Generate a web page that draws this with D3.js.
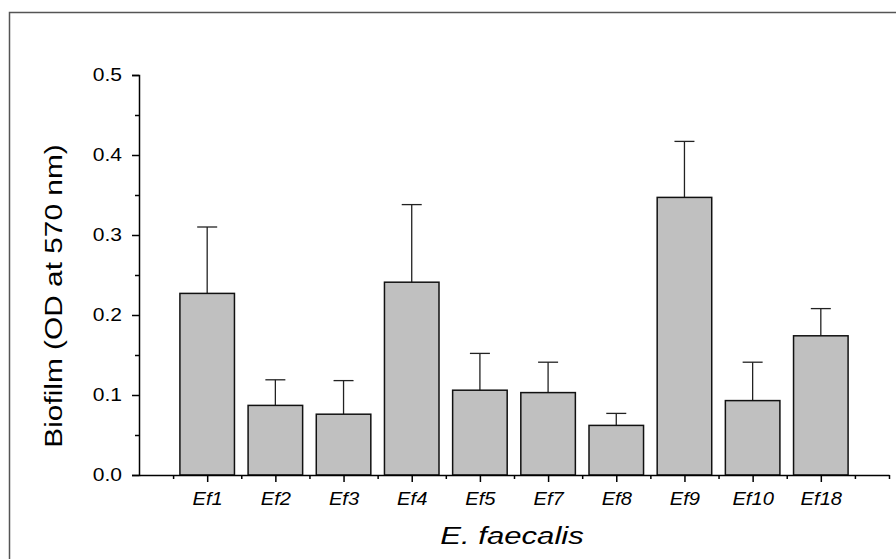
<!DOCTYPE html>
<html>
<head>
<meta charset="utf-8">
<script src="https://cdn.jsdelivr.net/npm/d3@7"></script>
<style>
  body { margin: 0; background: #fff; }
  text { font-family: "Liberation Sans", Arial, sans-serif; fill: #000; }
</style>
</head>
<body>
<div id="chart"></div>
<script>
const strains = ['Ef1', 'Ef2', 'Ef3', 'Ef4', 'Ef5', 'Ef7', 'Ef8', 'Ef9', 'Ef10', 'Ef18'];
const biofilm = [0.227, 0.087, 0.076, 0.241, 0.106, 0.103, 0.062, 0.347, 0.093, 0.174];
const errorUp = [0.083, 0.032, 0.042, 0.097, 0.046, 0.038, 0.015, 0.070, 0.048, 0.034];
const yTicks = [0.0, 0.1, 0.2, 0.3, 0.4, 0.5];

const width = 896, height = 559;
const margin = {left: 139, right: 7, top: 75, bottom: 84};

const svg = d3.select('#chart').append('svg')
    .attr('width', width)
    .attr('height', height);

// outer frame (only top and left edges show in the picture)
svg.append('rect')
    .attr('x', 9.5).attr('y', 12.5)
    .attr('width', width + 20).attr('height', height + 20)
    .attr('fill', 'none')
    .attr('stroke', '#555')
    .attr('stroke-width', 1.5);

// x: 11 slots, categories on positions 1..10
const x = d3.scaleLinear()
    .domain([0, 11])
    .range([margin.left, width - margin.right]);

const y = d3.scaleLinear()
    .domain([0, 0.5])
    .range([height - margin.bottom, margin.top]);

const slot = x(1) - x(0);
const barW = slot * 0.8;

const data = strains.map((s, i) => ({name: s, pos: i + 1, v: biofilm[i], e: errorUp[i]}));

// error bars (drawn first, bar covers the lower half)
const err = svg.append('g');
err.selectAll('line.stem')
    .data(data)
  .enter().append('line')
    .attr('x1', d => x(d.pos)).attr('x2', d => x(d.pos))
    .attr('y1', d => y(d.v)).attr('y2', d => y(d.v + d.e))
    .attr('stroke', '#222').attr('stroke-width', 1.3);
err.selectAll('line.cap')
    .data(data)
  .enter().append('line')
    .attr('x1', d => x(d.pos) - 10).attr('x2', d => x(d.pos) + 10)
    .attr('y1', d => y(d.v + d.e)).attr('y2', d => y(d.v + d.e))
    .attr('stroke', '#222').attr('stroke-width', 1.3);

svg.append('g').selectAll('rect')
    .data(data)
  .enter().append('rect')
    .attr('x', d => x(d.pos) - barW / 2)
    .attr('y', d => y(d.v))
    .attr('width', barW)
    .attr('height', d => y(0) - y(d.v))
    .attr('fill', '#c0c0c0')
    .attr('stroke', '#111')
    .attr('stroke-width', 1.5);

// y axis
const yAxis = svg.append('g')
    .attr('transform', 'translate(' + margin.left + ',0)')
    .call(d3.axisLeft(y).tickValues(yTicks).tickFormat(d3.format('.1f')).tickSize(7).tickPadding(10));
svg.append('g')
    .attr('transform', 'translate(' + margin.left + ',0)')
    .call(d3.axisLeft(y).tickValues([0.05, 0.15, 0.25, 0.35, 0.45]).tickFormat('').tickSize(4))
    .select('.domain').remove();

// x axis
const xAxis = svg.append('g')
    .attr('transform', 'translate(0,' + y(0) + ')')
    .call(d3.axisBottom(x).tickValues(d3.range(1, 11)).tickFormat(d => strains[d - 1]).tickSize(7).tickSizeOuter(0));
svg.append('g')
    .attr('transform', 'translate(0,' + y(0) + ')')
    .call(d3.axisBottom(x).tickValues(d3.range(0.5, 11.5, 1).concat([11])).tickFormat('').tickSize(4))
    .select('.domain').remove();

svg.selectAll('.domain, .tick line').attr('stroke', '#000').attr('stroke-width', 1.5);

// the original font runs wider than Arial, so stretch it a little
const ys = 1.17;
yAxis.selectAll('text')
    .style('font-size', '18px')
    .style('font-family', '"Liberation Sans", Arial, sans-serif')
    .attr('x', -17 / ys)
    .attr('transform', 'scale(' + ys + ',1)');
const xs = 1.12;
xAxis.selectAll('text')
    .style('font-size', '18px')
    .style('font-style', 'italic')
    .style('font-family', '"Liberation Sans", Arial, sans-serif')
    .attr('y', 30.5).attr('dy', 0)
    .attr('transform', 'scale(' + xs + ',1)');

// axis titles
svg.append('text')
    .attr('transform', 'translate(62,296) rotate(-90) scale(1.27,1)')
    .attr('text-anchor', 'middle')
    .style('font-size', '23.5px')
    .text('Biofilm (OD at 570 nm)');

svg.append('text')
    .attr('transform', 'translate(512,544) scale(1.27,1)')
    .attr('text-anchor', 'middle')
    .style('font-size', '24.5px')
    .style('font-style', 'italic')
    .text('E. faecalis');
</script>
</body>
</html>
